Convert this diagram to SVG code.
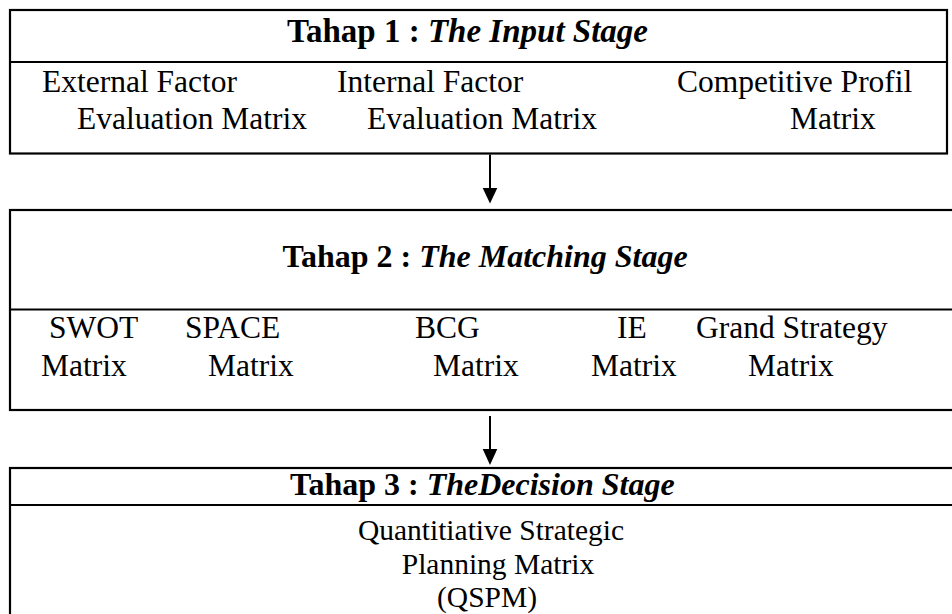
<svg xmlns="http://www.w3.org/2000/svg" width="952" height="614" viewBox="0 0 952 614">
<style>
.box{fill:#fff;stroke:#000;stroke-width:2.2}
.div{stroke:#000;stroke-width:2.2}
.t{font-family:"Liberation Serif","Times New Roman",serif;font-size:32px;font-weight:bold;fill:#000}
.t .i{font-style:italic}
.b{font-family:"Liberation Serif","Times New Roman",serif;font-size:31.5px;fill:#000}
.c{font-family:"Liberation Serif","Times New Roman",serif;font-size:29.5px;fill:#000;text-anchor:middle}
.conn{stroke:#000;stroke-width:2;fill:none}
.head{fill:#000}
</style>
<rect width="952" height="614" fill="#fff"/>
<g id="stage1">
<rect class="box" x="10" y="10" width="937" height="143.5"/>
<line class="div" x1="10" y1="62" x2="947" y2="62"/>
<text class="t" x="287" y="42" style="font-size:33px">Tahap 1 : <tspan class="i">The Input Stage</tspan></text>
<text class="b" x="42" y="92">External Factor</text>
<text class="b" x="77" y="129">Evaluation Matrix</text>
<text class="b" x="337" y="92">Internal Factor</text>
<text class="b" x="367" y="129">Evaluation Matrix</text>
<text class="b" x="677" y="92">Competitive Profil</text>
<text class="b" x="790" y="129">Matrix</text>
</g>
<g id="stage2">
<rect class="box" x="10" y="210" width="960" height="200"/>
<line class="div" x1="10" y1="309.5" x2="970" y2="309.5"/>
<text class="t" x="282.5" y="267">Tahap 2 : <tspan class="i">The Matching Stage</tspan></text>
<text class="b" x="49" y="338">SWOT</text>
<text class="b" x="41" y="376">Matrix</text>
<text class="b" x="185" y="338">SPACE</text>
<text class="b" x="208" y="376">Matrix</text>
<text class="b" x="415" y="338">BCG</text>
<text class="b" x="433" y="376">Matrix</text>
<text class="b" x="617" y="338">IE</text>
<text class="b" x="591" y="376">Matrix</text>
<text class="b" x="696" y="338">Grand Strategy</text>
<text class="b" x="748" y="376">Matrix</text>
</g>
<g id="stage3">
<rect class="box" x="10" y="468" width="960" height="200"/>
<line class="div" x1="10" y1="505" x2="970" y2="505"/>
<text class="t" x="290" y="494.5">Tahap 3 : <tspan class="i">TheDecision Stage</tspan></text>
<text class="c" x="491" y="540">Quantitiative Strategic</text>
<text class="c" x="498" y="574">Planning Matrix</text>
<text class="c" x="487" y="607">(QSPM)</text>
</g>
<g id="connectors">
<line class="conn" x1="490" y1="154.5" x2="490" y2="190"/>
<polygon class="head" points="482.7,188 497.3,188 490,203.5"/>
<line class="conn" x1="490" y1="416" x2="490" y2="451"/>
<polygon class="head" points="482.7,449 497.3,449 490,465"/>
</g>
</svg>
